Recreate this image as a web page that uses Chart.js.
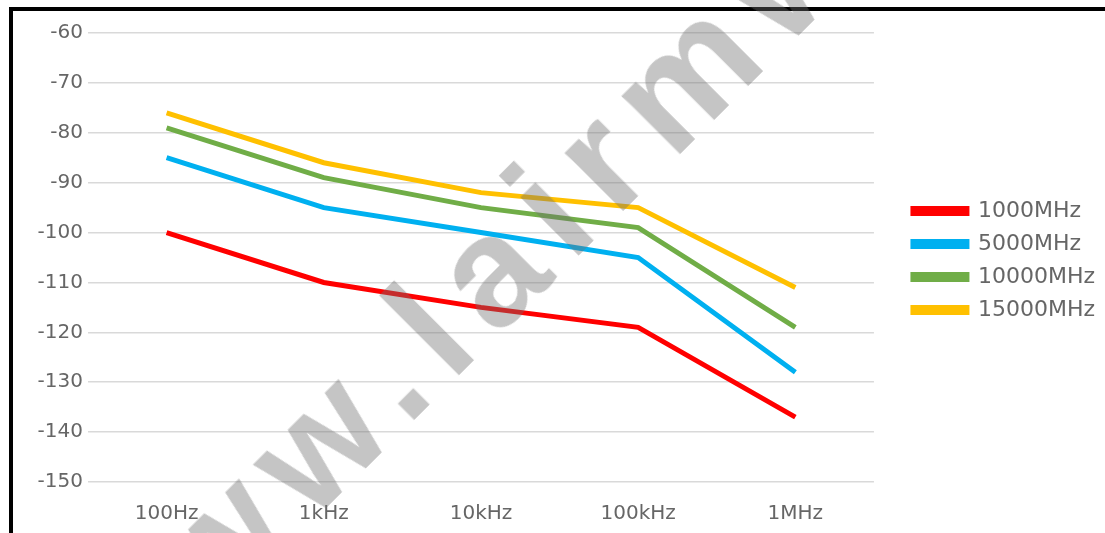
<!DOCTYPE html>
<html>
<head>
<meta charset="utf-8">
<script src="https://cdn.jsdelivr.net/npm/chart.js@4.4.1/dist/chart.umd.min.js"></script>
<style>
  html, body { margin: 0; padding: 0; background: #fff; overflow: hidden; }
  body { width: 1105px; height: 533px; position: relative; }
  #frame {
    position: absolute; left: 9px; top: 7px; right: -10px; bottom: -10px;
    border-top: 4px solid #000; border-left: 4px solid #000;
  }
  #box { position: absolute; left: 13px; top: 11px; width: 1092px; height: 522px; }
  #mark {
    position: absolute; left: 20px; top: 629px;
    font: bold 155px/1 "Liberation Sans", sans-serif;
    letter-spacing: 20px;
    color: rgba(110, 110, 110, 0.4);
    transform: rotate(-45deg); transform-origin: 0 0;
    white-space: nowrap; pointer-events: none;
  }
</style>
</head>
<body>
<div id="frame"></div>
<div id="box"><canvas id="chartNoise"></canvas></div>
<div id="mark">www.lairmw.com</div>
<script>
// data
const freqLabels = ["100Hz", "1kHz", "10kHz", "100kHz", "1MHz"];
const seriesNames = ["1000MHz", "5000MHz", "10000MHz", "15000MHz"];
const val1000 = [-100, -110, -115, -119, -137];
const val5000 = [-85, -95, -100, -105, -128];
const val10000 = [-79, -89, -95, -99, -119];
const val15000 = [-76, -86, -92, -95, -111];
const yTicks = [-60, -70, -80, -90, -100, -110, -120, -130, -140, -150];

const colors = ["#FF0000", "#00B0F0", "#70AD47", "#FFC000"];
const allValues = [val1000, val5000, val10000, val15000];

const fontFam = "'DejaVu Sans', sans-serif";
const textColor = "#666666";

// push the legend a bit away from the plot, like the original
const legendShift = {
    id: "legendShift",
    afterLayout(chart) {
        if (chart.legend) {
            chart.legend.left += 28;
            chart.legend.right += 28;
            chart.legend.top += 3;
            chart.legend.bottom += 3;
        }
    }
};

let ctx = document.getElementById("chartNoise").getContext("2d");

new Chart(ctx, {
    type: "line",
    data: {
        labels: freqLabels,
        datasets: seriesNames.map((n, i) => ({
            label: n,
            data: allValues[i],
            borderColor: colors[i],
            backgroundColor: colors[i],
            borderWidth: 5,
            pointRadius: 0,
            tension: 0
        }))
    },
    options: {
        responsive: true,
        maintainAspectRatio: false,
        animation: false,
        layout: { padding: { top: 22, right: 28, left: 0, bottom: 0 } },
        plugins: {
            tooltip: { enabled: false },
            legend: {
                position: "right",
                fullSize: false,
                labels: {
                    boxWidth: 54,
                    boxHeight: 5,
                    padding: 11,
                    color: textColor,
                    font: { family: fontFam, size: 22 }
                }
            }
        },
        scales: {
            x: {
                offset: true,
                grid: { display: false },
                border: { display: false },
                ticks: {
                    color: textColor,
                    padding: 12,
                    font: { family: fontFam, size: 20 }
                },
                afterFit: s => { s.height = 51; }
            },
            y: {
                min: -150,
                max: -60,
                afterBuildTicks: s => { s.ticks = yTicks.map(v => ({ value: v })); },
                grid: { color: "#d9d9d9", lineWidth: 1.5, drawTicks: false },
                border: { display: false },
                ticks: {
                    color: textColor,
                    padding: 5,
                    font: { family: fontFam, size: 20 }
                },
                afterFit: s => { s.width = 75; }
            }
        }
    },
    plugins: [legendShift]
});
</script>
</body>
</html>
